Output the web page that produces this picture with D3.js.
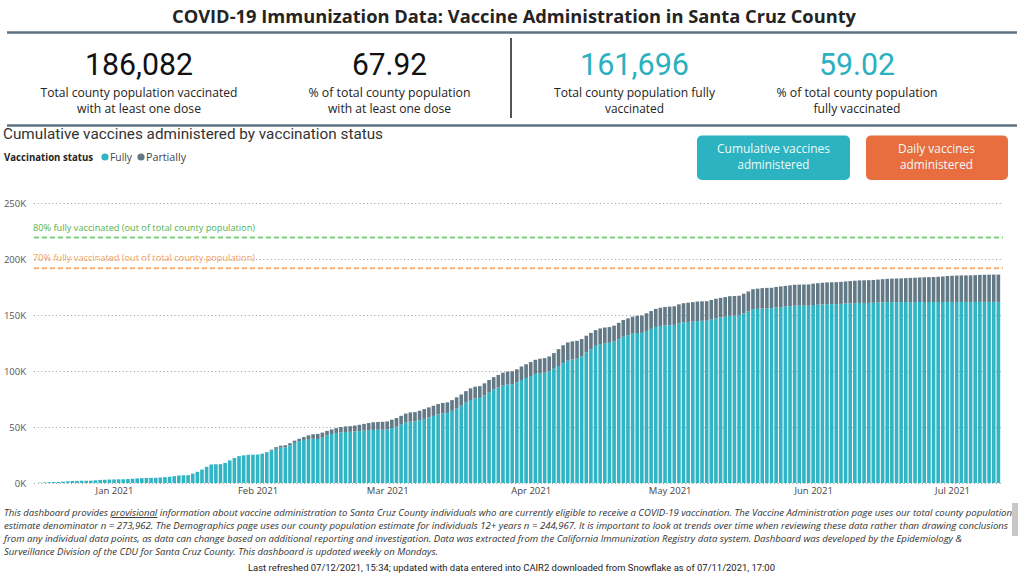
<!DOCTYPE html>
<html>
<head>
<meta charset="utf-8">
<script src="https://cdn.jsdelivr.net/npm/d3@7"></script>
<style>
  html, body { margin: 0; padding: 0; background: #fff; }
  svg { display: block; }
</style>
</head>
<body>
<svg id="chart" width="1024" height="581"></svg>
<script>
// ---------------- DATA ----------------
const startDate = "2020-12-16";   // first bar; one bar per day through 2021-07-11
const seriesKeys = ["fully", "partially"];
const seriesLabels = ["Fully", "Partially"];

const fully = [
  300,500,700,900,1000,1200,1500,1800,1900,2000,2000,2100,2400,2700,2900,3100,
  3200,3300,3300,3600,3800,4100,4300,4500,4600,4600,4900,5200,5600,6100,6700,6900,7000,8400,10000,12000,14500,16500,16700,16800,17900,20200,22300,24000,24700,25200,25300,
  25400,26200,27400,29000,30500,31500,31800,33500,35800,37400,38500,39300,39500,39300,40500,42500,43800,44700,45200,45500,45700,46000,46300,46800,47100,47400,47500,47600,
  47700,49000,50300,52100,53900,54700,55000,56000,57300,58600,59900,61200,62100,62600,64400,66700,69000,71800,74100,75500,76000,78300,81100,83400,85200,87000,87900,88200,89700,92000,93800,
  95500,97200,98000,98500,99700,102000,104500,107000,109200,110300,111000,113000,116500,119500,122500,124000,124800,125200,126200,128400,130600,132000,133300,133900,134100,135800,137600,139400,140200,140700,
  140900,141200,142700,143500,143800,144200,144600,144800,144900,145900,147000,147800,148400,149200,149400,149600,151400,153300,155200,155500,155900,156000,156100,156700,157100,157500,157900,158300,158300,158300,158300,
  158900,159200,159500,159700,159700,159700,159900,160200,160400,160600,160800,160800,160800,160900,161100,161400,161500,161500,161500,161500,161550,161550,161600,161600,161600,161600,161600,161600,161620,161630,
  161640,161650,161650,161660,161660,161670,161680,161690,161690,161695,161696
];
const partially = [
  0,0,0,0,0,0,0,0,0,0,0,0,0,0,0,0,
  0,0,0,0,0,0,0,0,0,0,0,0,0,0,0,0,0,0,0,0,0,0,0,0,0,0,0,0,0,0,0,
  0,0,300,800,1500,1800,1900,2000,2000,2100,2500,3200,4000,4500,4500,4000,4000,4300,4800,5000,5000,5300,5700,6000,6400,6800,7000,7000,
  7300,7500,7700,7900,8100,8300,8300,8500,8700,8900,9100,9300,9400,9400,9600,9800,10000,10200,10400,10500,10500,10700,10900,11100,11300,11500,11600,11600,11800,12000,12200,
  12500,12800,13000,13000,13300,14000,15000,16000,16300,16200,16000,15500,15000,14500,14000,14000,14000,14000,14300,14600,14900,15000,15200,15400,15500,15700,15900,16100,16300,16500,
  16600,16600,16800,17000,17200,17300,17400,17400,17400,17500,17500,17500,17600,17600,17600,17600,17600,17700,17800,18000,18100,18200,18200,18300,18400,18500,18600,18700,18800,18900,19000,
  19100,19200,19300,19400,19500,19600,19700,19800,19900,20000,20100,20200,20300,20400,20500,20600,20800,21000,21100,21200,21350,21550,21700,21900,22100,22200,22300,22500,22780,23170,
  23360,23550,23650,23690,23740,23930,24120,24210,24310,24355,24386
];

const yTicks = [0, 50000, 100000, 150000, 200000, 250000];
const countyPopulation = 273962;
const targetLines = [
  { share: 0.8, label: "80% fully vaccinated (out of total county population)" },
  { share: 0.7, label: "70% fully vaccinated (out of total county population)" }
];

const kpiValues = ["186,082", "67.92", "161,696", "59.02"];
const kpiLabels = [
  ["Total county population vaccinated", "with at least one dose"],
  ["% of total county population", "with at least one dose"],
  ["Total county population fully", "vaccinated"],
  ["% of total county population", "fully vaccinated"]
];
const buttonLabels = [
  ["Cumulative vaccines", "administered"],
  ["Daily vaccines", "administered"]
];
const titleText = "COVID-19 Immunization Data: Vaccine Administration in Santa Cruz County";
const chartTitle = "Cumulative vaccines administered by vaccination status";
const legendTitle = "Vaccination status";
const footerLines = [
  ["This dashboard provides ", "provisional", " information about vaccine administration to Santa Cruz County individuals who are currently eligible to receive a COVID-19 vaccination. The Vaccine Administration page uses our total county population"],
  ["estimate denominator n = 273,962. The Demographics page uses our county population estimate for individuals 12+ years n = 244,967. It is important to look at trends over time when reviewing these data rather than drawing conclusions"],
  ["from any individual data points, as data can change based on additional reporting and investigation.  Data was extracted from the California Immunization Registry data system. Dashboard was developed by the Epidemiology &"],
  ["Surveillance Division of the CDU for Santa Cruz County. This dashboard is updated weekly on Mondays."]
];
const refreshText = "Last refreshed 07/12/2021, 15:34; updated with data entered into CAIR2 downloaded from Snowflake as of 07/11/2021, 17:00";

// ---------------- STYLE ----------------
const TEAL = "#31b4c3", GRAY = "#637986", ORANGE = "#e86e40";
const SEGOE = "'Segoe UI', 'Open Sans', 'Noto Sans', sans-serif";
const DIN = "Roboto, 'DejaVu Sans Condensed', sans-serif";

const svg = d3.select("#chart");

function txt(str, x, y, o) {
  const t = svg.append("text")
    .attr("x", x).attr("y", y)
    .attr("font-family", o.font || SEGOE)
    .attr("font-size", o.size || 12)
    .attr("font-weight", o.weight || "normal")
    .attr("font-style", o.style || "normal")
    .attr("fill", o.fill || "#252423")
    .attr("text-anchor", o.anchor || "start")
    .text(str);
  if (o.width) t.attr("textLength", o.width).attr("lengthAdjust", "spacingAndGlyphs");
  return t;
}

// ---------------- HEADER ----------------
txt(titleText, 514, 23, { size: 18, weight: "bold", anchor: "middle", width: 684, fill: "#252423" });
svg.append("line").attr("x1", 7).attr("x2", 1017).attr("y1", 32.5).attr("y2", 32.5)
  .attr("stroke", "#5d7383").attr("stroke-width", 2.5);
svg.append("line").attr("x1", 7).attr("x2", 1017).attr("y1", 125.5).attr("y2", 125.5)
  .attr("stroke", "#5d7383").attr("stroke-width", 2.5);
svg.append("line").attr("x1", 511).attr("x2", 511).attr("y1", 38).attr("y2", 118)
  .attr("stroke", "#555").attr("stroke-width", 2);

const kpiCenters = [139, 389.5, 634.5, 857];
const kpiNumW = [108, 75, 109, 76];
const kpiColors = ["#111", "#111", "#2ab0bf", "#2ab0bf"];
const kpiLabelW = [[197, 124], [162, 123], [161, 59], [161, 87]];
kpiValues.forEach((v, i) => {
  txt(v, kpiCenters[i], 75, { font: DIN, size: 32, anchor: "middle", fill: kpiColors[i], width: kpiNumW[i] });
  kpiLabels[i].forEach((l, j) => {
    txt(l, kpiCenters[i], 97 + j * 16, { size: 12.5, anchor: "middle", fill: "#252423", width: kpiLabelW[i][j] });
  });
});

// ---------------- CHART TITLE / LEGEND / BUTTONS ----------------
txt(chartTitle, 3, 139, { font: DIN, size: 15, fill: "#333", width: 380 });
txt(legendTitle, 4, 160.5, { size: 10, weight: "bold", fill: "#252423", width: 89 });
const legendColors = [TEAL, GRAY];
const legendX = [105, 141];
const legendW = [22, 40];
seriesLabels.forEach((s, i) => {
  svg.append("circle").attr("cx", legendX[i]).attr("cy", 157).attr("r", 3.6).attr("fill", legendColors[i]);
  txt(s, legendX[i] + 5, 160.5, { size: 10, fill: "#444", width: legendW[i] });
});

const btns = [
  { x: 697, w: 153, fill: "#2bb3c1", c: 773.5, w1: 113, w2: 72 },
  { x: 866, w: 142, fill: "#e86d3f", c: 936.5, w1: 77, w2: 73 }
];
btns.forEach((b, i) => {
  svg.append("rect").attr("x", b.x).attr("y", 135.5).attr("width", b.w).attr("height", 44.5)
    .attr("rx", 5).attr("fill", b.fill);
  txt(buttonLabels[i][0], b.c, 152.5, { size: 12.5, anchor: "middle", fill: "#eefafb", width: b.w1 });
  txt(buttonLabels[i][1], b.c, 168.5, { size: 12.5, anchor: "middle", fill: "#eefafb", width: b.w2 });
});

// ---------------- BAR CHART ----------------
const parse = d3.timeParse("%Y-%m-%d");
const dates = d3.timeDay.range(parse(startDate), d3.timeDay.offset(parse(startDate), fully.length));
const rows = dates.map((d, i) => ({ date: d, fully: fully[i], partially: partially[i] }));

const x = d3.scaleTime()
  .domain([parse("2020-12-15"), parse("2021-07-12")])
  .range([35.3, 1003]);
const y = d3.scaleLinear().domain([0, 250000]).range([483, 203]);
const barW = 3.6;

// gridlines
svg.append("g").selectAll("line").data(yTicks).join("line")
  .attr("x1", 34).attr("x2", 1003)
  .attr("y1", d => Math.round(y(d)) + 0.5).attr("y2", d => Math.round(y(d)) + 0.5)
  .attr("stroke", "#9a9a9a").attr("stroke-width", 1).attr("stroke-dasharray", "1,2.7");

// y axis labels
const yAxis = d3.axisLeft(y).tickValues(yTicks).tickFormat(d => (d / 1000) + "K").tickSize(0).tickPadding(0);
const yg = svg.append("g").attr("transform", "translate(26,0)").call(yAxis);
yg.select(".domain").remove();
yg.selectAll("text").attr("font-family", SEGOE).attr("font-size", 9.5).attr("fill", "#555");

// stacked bars
const stack = d3.stack().keys(seriesKeys)(rows);
const colors = { fully: TEAL, partially: GRAY };
svg.append("g").selectAll("g").data(stack).join("g")
  .attr("fill", s => colors[s.key])
  .selectAll("rect").data(s => s).join("rect")
  .attr("x", d => x(d.data.date) - barW / 2)
  .attr("width", barW)
  .attr("y", d => y(d[1]))
  .attr("height", d => Math.max(0, y(d[0]) - y(d[1])));

// target lines
const targetColors = ["#7fcf7f", "#f7b27c"];
const targetTextColors = ["#4fb34f", "#f2a160"];
targetLines.forEach((t, i) => {
  const yy = y(t.share * countyPopulation);
  svg.append("line").attr("x1", 34).attr("x2", 1003).attr("y1", yy).attr("y2", yy)
    .attr("stroke", targetColors[i]).attr("stroke-width", 2).attr("stroke-dasharray", "5,3");
  txt(t.label, 33, yy - 7, { size: 9.5, fill: targetTextColors[i], width: 222 });
});

// x axis
const xAxis = d3.axisBottom(x).ticks(d3.timeMonth.every(1)).tickFormat(d3.timeFormat("%b %Y")).tickSize(0).tickPadding(0);
const xg = svg.append("g").attr("transform", "translate(0,487)").call(xAxis);
xg.select(".domain").remove();
xg.selectAll("text").attr("font-family", SEGOE).attr("font-size", 9.5).attr("fill", "#444");

// ---------------- FOOTER ----------------
const footW = [1008, 1004, 958, 434];
footerLines.forEach((parts, i) => {
  const t = svg.append("text").attr("x", 4).attr("y", 516 + i * 13)
    .attr("font-family", SEGOE).attr("font-size", 9.5).attr("font-style", "italic")
    .attr("fill", "#333")
    .attr("textLength", footW[i]).attr("lengthAdjust", "spacingAndGlyphs");
  parts.forEach((p) => {
    const ts = t.append("tspan").text(p);
    if (p === "provisional") ts.attr("text-decoration", "underline");
  });
});
svg.append("rect").attr("x", 1012).attr("y", 503).attr("width", 6).attr("height", 33).attr("fill", "#c8c8c8");
txt(refreshText, 511.5, 571, { font: DIN, size: 9.5, anchor: "middle", fill: "#222", width: 527 });
</script>
</body>
</html>
